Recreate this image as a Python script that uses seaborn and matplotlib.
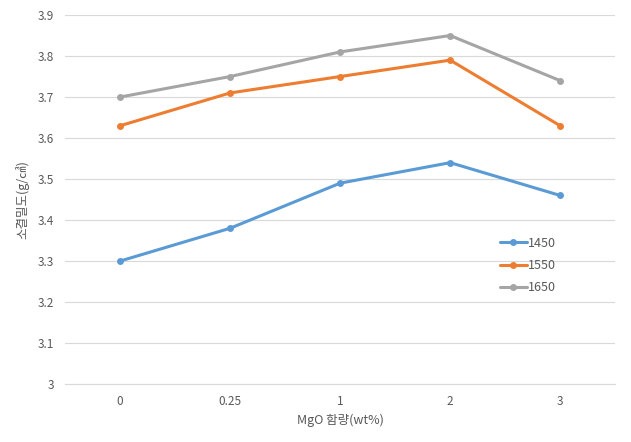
import pandas as pd
import matplotlib
matplotlib.use("Agg")
import matplotlib.pyplot as plt
import seaborn as sns

# 데이터
mgo = ["0", "0.25", "1", "2", "3"]
d1450 = [3.30, 3.38, 3.49, 3.54, 3.46]
d1550 = [3.63, 3.71, 3.75, 3.79, 3.63]
d1650 = [3.70, 3.75, 3.81, 3.85, 3.74]
series = ["1450", "1550", "1650"]
y_ticks = [3, 3.1, 3.2, 3.3, 3.4, 3.5, 3.6, 3.7, 3.8, 3.9]

df = pd.DataFrame({
    "mgo": mgo * 3,
    "density": d1450 + d1550 + d1650,
    "temp": [s for s in series for _ in mgo],
})

sns.set_style("white")
plt.rcParams["font.family"] = ["Noto Sans CJK KR", "DejaVu Sans"]

colors = {"1450": "#5B9BD5", "1550": "#ED7D31", "1650": "#A5A5A5"}

fig = plt.figure(figsize=(6.31, 4.42), dpi=100)
ax = fig.add_axes([0.103, 0.131, 0.872, 0.835])

sns.lineplot(data=df, x="mgo", y="density", hue="temp", palette=colors,
             marker="o", markersize=5, markeredgewidth=0, linewidth=2.2,
             sort=False, ax=ax)

ax.set_xlim(-0.5, 4.5)
ax.set_ylim(3, 3.9)
ax.set_yticks(y_ticks)
ax.set_yticklabels([f"{t:g}" for t in y_ticks])
ax.grid(axis="y", color="#D9D9D9", linewidth=0.8)
ax.set_axisbelow(True)
for s in ["top", "right", "left"]:
    ax.spines[s].set_visible(False)
ax.spines["bottom"].set_color("#D9D9D9")
ax.tick_params(length=0, colors="#595959", labelsize=8.5, pad=8)

ax.set_xlabel("MgO 함량(wt%)", color="#595959", fontsize=9, labelpad=4)
ax.set_ylabel("소결밀도(g/㎤)", color="#595959", fontsize=9, labelpad=6)

leg = ax.legend(loc="upper left", bbox_to_anchor=(0.774, 0.49),
                bbox_transform=fig.transFigure, frameon=False,
                fontsize=9, handlelength=2.2, handletextpad=0.1,
                labelspacing=0.75, title=None)
for t in leg.get_texts():
    t.set_color("#595959")

fig.savefig("out.png", dpi=100)
